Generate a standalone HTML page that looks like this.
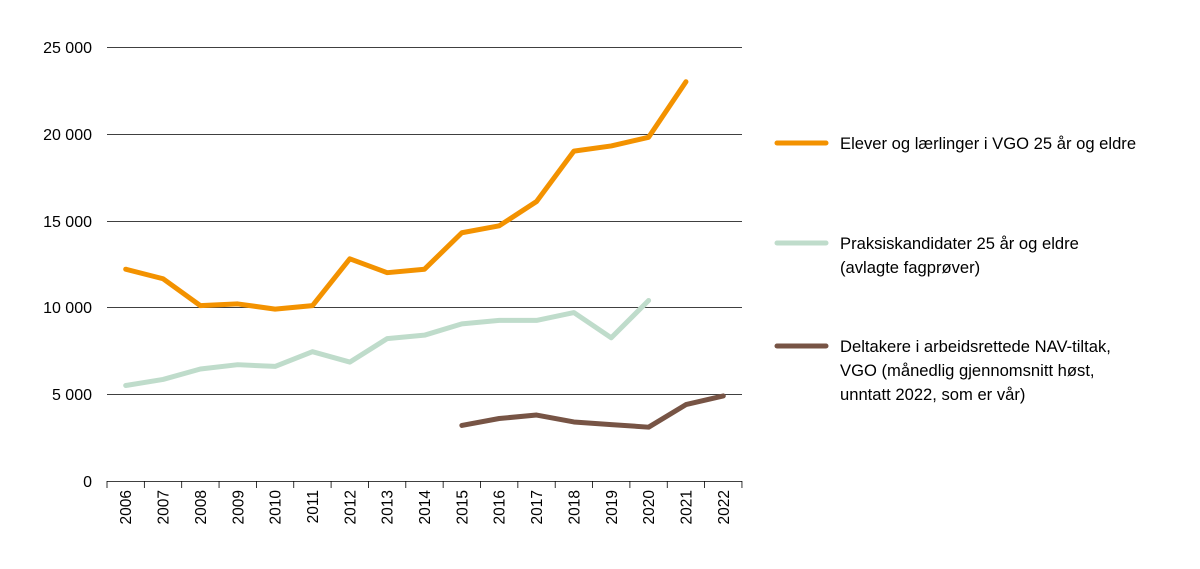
<!DOCTYPE html>
<html><head><meta charset="utf-8"><style>
html,body{margin:0;padding:0;background:#fff;}
svg{display:block;font-family:"Liberation Sans",sans-serif;}
</style></head><body>
<svg width="1200" height="569" viewBox="0 0 1200 569">
<g stroke="#000" stroke-width="0.8">
<line x1="107" y1="47.5" x2="742" y2="47.5"/>
<line x1="107" y1="134.5" x2="742" y2="134.5"/>
<line x1="107" y1="221.5" x2="742" y2="221.5"/>
<line x1="107" y1="307.5" x2="742" y2="307.5"/>
<line x1="107" y1="394.5" x2="742" y2="394.5"/>
<line x1="107" y1="481.5" x2="742" y2="481.5"/>
</g>
<g stroke="#000" stroke-width="0.8" id="ticks"></g>
<g font-size="16" fill="#000" text-anchor="end">
<text x="92" y="53">25 000</text>
<text x="92" y="140">20 000</text>
<text x="92" y="227">15 000</text>
<text x="92" y="313">10 000</text>
<text x="92" y="400">5 000</text>
<text x="92" y="487">0</text>
</g>
<g font-size="15.5" fill="#000" text-anchor="end" id="xl"></g>
<g transform="translate(125.7,481) scale(37.35,-0.01736)" fill="none" stroke-linejoin="round" stroke-linecap="round">
<polyline vector-effect="non-scaling-stroke" stroke="#BFDCCB" stroke-width="5" points="0,5500 1,5850 2,6450 3,6700 4,6600 5,7450 6,6850 7,8200 8,8400 9,9050 10,9250 11,9250 12,9700 13,8250 14,10400"/>
<polyline vector-effect="non-scaling-stroke" stroke="#F39200" stroke-width="5" points="0,12200 1,11650 2,10100 3,10200 4,9900 5,10100 6,12800 7,12000 8,12200 9,14300 10,14700 11,16100 12,19000 13,19300 14,19800 15,23000"/>
<polyline vector-effect="non-scaling-stroke" stroke="#775445" stroke-width="5" points="9,3200 10,3600 11,3800 12,3400 13,3250 14,3100 15,4400 16,4900"/>
</g>
<g stroke-width="5" stroke-linecap="round">
<line x1="777" y1="143" x2="826" y2="143" stroke="#F39200"/>
<line x1="777" y1="243" x2="826" y2="243" stroke="#BFDCCB"/>
<line x1="777" y1="346" x2="826" y2="346" stroke="#775445"/>
</g>
<g font-size="16.6" fill="#000">
<text x="840" y="149">Elever og lærlinger i VGO 25 år og eldre</text>
<text x="840" y="249">Praksiskandidater 25 år og eldre</text>
<text x="840" y="273">(avlagte fagprøver)</text>
<text x="840" y="352">Deltakere i arbeidsrettede NAV-tiltak,</text>
<text x="840" y="376">VGO (månedlig gjennomsnitt høst,</text>
<text x="840" y="400">unntatt 2022, som er vår)</text>
</g>
<script>
var t=document.getElementById('ticks'),xl=document.getElementById('xl'),ns='http://www.w3.org/2000/svg';
for(var i=0;i<=17;i++){var x=107+37.35*i;var l=document.createElementNS(ns,'line');l.setAttribute('x1',x);l.setAttribute('x2',x);l.setAttribute('y1',481);l.setAttribute('y2',488);t.appendChild(l);}
for(var i=0;i<17;i++){var cx=125.7+37.35*i;var e=document.createElementNS(ns,'text');e.setAttribute('transform','translate('+(cx+5.5)+',490) rotate(-90)');e.textContent=2006+i;xl.appendChild(e);}
</script>
</svg>
</body></html>
